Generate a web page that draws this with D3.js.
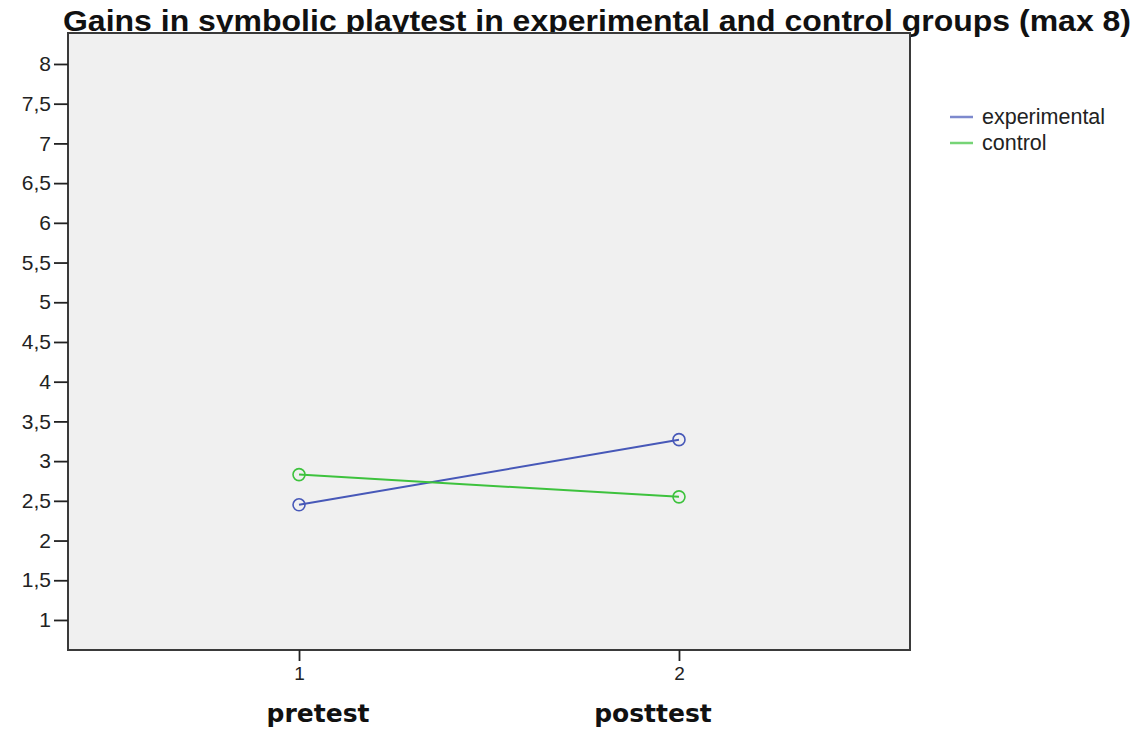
<!DOCTYPE html>
<html><head><meta charset="utf-8">
<script src="https://cdn.jsdelivr.net/npm/d3@7"></script>
<style>body{margin:0;background:#fff}svg{display:block}</style>
</head><body>
<script>
const xValues = [1, 2];
const xCategoryLabels = ["pretest", "posttest"];
const seriesNames = ["experimental", "control"];
const experimental = [2.45, 3.27];
const control = [2.83, 2.55];
const yTicks = [1, 1.5, 2, 2.5, 3, 3.5, 4, 4.5, 5, 5.5, 6, 6.5, 7, 7.5, 8];
const titleText = "Gains in symbolic playtest in experimental and control groups (max 8)";

const W = 1140, H = 731;
const m = {l: 68, t: 33, r: 910, b: 650};
const svg = d3.select("body").append("svg").attr("width", W).attr("height", H);

svg.append("text").attr("x", 63).attr("y", 31)
  .attr("font-family", "Liberation Sans Narrow, Arial Narrow, Liberation Sans, sans-serif")
  .attr("font-weight", "bold").attr("font-size", 29).attr("fill", "#111")
  .attr("textLength", 1068).attr("lengthAdjust", "spacingAndGlyphs")
  .text(titleText);

const x = d3.scaleLinear().domain([0.392, 2.608]).range([m.l, m.r]);
const y = d3.scaleLinear().domain([0.622, 8.39]).range([m.b, m.t]);

svg.append("rect").attr("x", m.l).attr("y", m.t).attr("width", m.r - m.l).attr("height", m.b - m.t)
  .attr("fill", "#f0f0f0").attr("stroke", "#3a3a3a").attr("stroke-width", 2);

const yAxis = svg.append("g").attr("transform", `translate(${m.l},0)`)
  .call(d3.axisLeft(y).tickValues(yTicks).tickSize(14).tickPadding(3)
    .tickFormat(d => String(d).replace(".", ",")));
yAxis.select(".domain").remove();
yAxis.selectAll("line").attr("stroke", "#222").attr("stroke-width", 1.8);
yAxis.selectAll("text").attr("font-family", "Liberation Sans, Arial, sans-serif").attr("font-size", 21).attr("fill", "#222");

const xAxis = svg.append("g").attr("transform", `translate(0,${m.b})`)
  .call(d3.axisBottom(x).tickValues(xValues).tickSize(11).tickPadding(6).tickFormat(d3.format("d")));
xAxis.select(".domain").remove();
xAxis.selectAll("line").attr("stroke", "#222").attr("stroke-width", 1.8);
xAxis.selectAll("text").attr("font-family", "Liberation Sans, Arial, sans-serif").attr("font-size", 19).attr("fill", "#222");

const labelOffsets = [19, -26];
svg.selectAll(".cat").data(xCategoryLabels).enter().append("text")
  .attr("x", (d, i) => x(xValues[i]) + labelOffsets[i]).attr("y", 722)
  .attr("text-anchor", "middle")
  .attr("font-family", "DejaVu Sans, sans-serif").attr("font-weight", "bold").attr("font-size", 25).attr("fill", "#111")
  .text(d => d);

const colors = ["#4758b8", "#3dc23d"];
const series = [experimental, control];
const line = d3.line().x((d, i) => x(xValues[i])).y(d => y(d));
series.forEach((s, k) => {
  svg.append("path").datum(s).attr("d", line).attr("fill", "none")
    .attr("stroke", colors[k]).attr("stroke-width", 2);
  svg.selectAll(".pt" + k).data(s).enter().append("circle")
    .attr("cx", (d, i) => x(xValues[i])).attr("cy", d => y(d)).attr("r", 6)
    .attr("fill", "none").attr("stroke", colors[k]).attr("stroke-width", 1.6);
});

const legend = svg.append("g");
seriesNames.forEach((n, k) => {
  const yy = 117 + k * 26;
  legend.append("line").attr("x1", 950).attr("x2", 973).attr("y1", yy).attr("y2", yy)
    .attr("stroke", colors[k]).attr("stroke-width", 2.5).attr("opacity", 0.7);
  legend.append("text").attr("x", 982).attr("y", yy + 7)
    .attr("font-family", "Liberation Sans, Arial, sans-serif").attr("font-size", 21.5).attr("fill", "#222")
    .text(n);
});
</script>
</body></html>
